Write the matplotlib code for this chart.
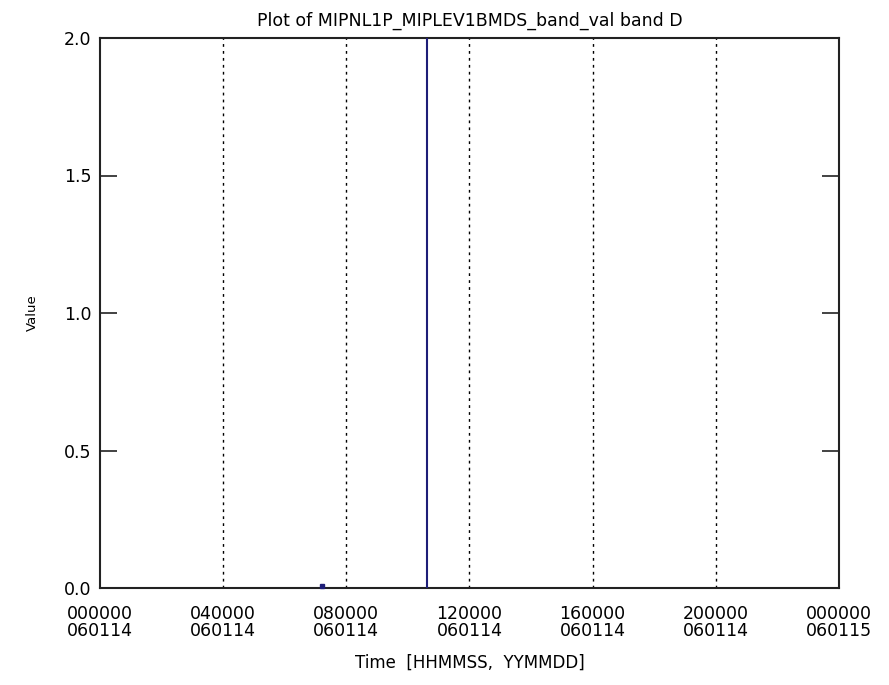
import matplotlib
matplotlib.use("Agg")
import matplotlib.pyplot as plt

# Data (seconds since 2006-01-14 00:00:00)
tick_secs = [0, 14400, 28800, 43200, 57600, 72000, 86400]
tick_labels = ["000000\n060114", "040000\n060114", "080000\n060114", "120000\n060114",
               "160000\n060114", "200000\n060114", "000000\n060115"]
grid_secs = [14400, 28800, 43200, 57600, 72000]
y_ticks = [0.0, 0.5, 1.0, 1.5, 2.0]
y_tick_labels = ["0.0", "0.5", "1.0", "1.5", "2.0"]

# measured series
dot_time = [26000]
dot_value = [0.006]
spike_time = [38230, 38230]
spike_value = [0.0, 2.0]

fig = plt.figure(figsize=(8.89, 6.85), dpi=100)
ax = fig.add_axes([100/889, 1-588/685, 739/889, 550/685])

axis_col = "#222222"
line_col = "#1e1e78"

for g in grid_secs:
    ax.axvline(g, color="black", linestyle=(0, (2, 3)), linewidth=1.0, zorder=1)

ax.plot(spike_time, spike_value, color=line_col, linewidth=1.5, zorder=3)
ax.plot(dot_time, dot_value, marker="s", markersize=3, color=line_col, linestyle="none", zorder=4, clip_on=False)

ax.set_xlim(0, 86400)
ax.set_ylim(0, 2.0)
ax.set_xticks(tick_secs)
ax.set_xticklabels(tick_labels, fontsize=12.5, linespacing=0.92)
ax.set_yticks(y_ticks)
ax.set_yticklabels(y_tick_labels, fontsize=12.5)
ax.tick_params(axis="x", length=0, pad=12)
ax.tick_params(axis="y", direction="in", length=12, width=1.2, right=True, left=True, pad=6, color=axis_col)
for s in ax.spines.values():
    s.set_linewidth(1.5)
    s.set_color(axis_col)

ax.set_title("Plot of MIPNL1P_MIPLEV1BMDS_band_val band D", fontsize=12.5, pad=9)
ax.set_xlabel("Time  [HHMMSS,  YYMMDD]", fontsize=12, labelpad=10)
ax.set_ylabel("Value", fontsize=9.5, labelpad=18)

fig.savefig("out.png", dpi=100)
